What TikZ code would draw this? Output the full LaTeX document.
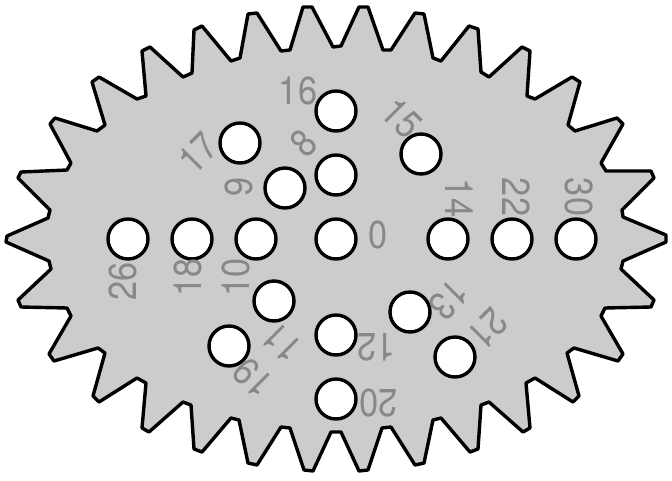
\documentclass[tikz,border=0pt]{standalone}
\usepackage{fontspec}
\newfontfamily\holefont[FakeStretch=0.88]{TeX Gyre Heros}
\definecolor{gearfill}{HTML}{CCCCCC}
\definecolor{labelgray}{HTML}{888888}

\tikzset{
    gearbody/.style={draw=black,fill=gearfill,line width=3.4pt,line join=round},
    hole/.style={circle,draw=black,fill=white,line width=3.4pt,inner sep=0pt,minimum size=40pt},
    holelabel/.style={text=labelgray,inner sep=0pt,font=\holefont\fontsize{39}{39}\selectfont}
}

\begin{document}
\begin{tikzpicture}[x=1pt,y=-1pt]

\useasboundingbox (0,0) rectangle (672,480);

% Gear outline
\draw[gearbody] (7,236) -- (48,218) -- (50,210) -- (18,178) -- (21,172) -- (67,170)
    -- (71,163) -- (50,124) -- (55,118) -- (97,131) -- (105,125) -- (92,82)
    -- (99,77) -- (137,99) -- (146,96) -- (142,51) -- (150,47) -- (183,77)
    -- (192,73) -- (194,30) -- (202,26) -- (231,61) -- (240,58) -- (248,14)
    -- (257,13) -- (281,51) -- (290,50) -- (303,7) -- (312,7) -- (333,47)
    -- (341,46) -- (359,7) -- (368,7) -- (383,50) -- (391,50) -- (415,13)
    -- (424,14) -- (433,58) -- (441,61) -- (469,26) -- (478,29) -- (481,72)
    -- (489,77) -- (522,47) -- (530,51) -- (527,96) -- (535,99) -- (572,77)
    -- (580,82) -- (568,125) -- (575,131) -- (617,118) -- (623,124) -- (601,163)
    -- (606,171) -- (651,171) -- (654,178) -- (622,210) -- (623,217) -- (666,235)
    -- (666,242) -- (623,261) -- (621,269) -- (654,300) -- (651,307) -- (605,308)
    -- (601,316) -- (623,354) -- (618,361) -- (574,348) -- (567,353) -- (579,396)
    -- (573,402) -- (535,378) -- (526,383) -- (530,428) -- (523,432) -- (489,402)
    -- (481,405) -- (478,449) -- (470,452) -- (441,418) -- (433,420) -- (424,463)
    -- (415,465) -- (391,427) -- (382,428) -- (368,470) -- (359,471) -- (341,432)
    -- (331,432) -- (313,471) -- (304,470) -- (290,428) -- (281,427) -- (257,465)
    -- (248,463) -- (239,420) -- (231,418) -- (202,452) -- (194,449) -- (191,405)
    -- (183,402) -- (149,432) -- (142,428) -- (146,383) -- (137,378) -- (99,402)
    -- (93,396) -- (105,353) -- (98,348) -- (54,361) -- (49,354) -- (71,316)
    -- (67,308) -- (21,307) -- (18,300) -- (51,269) -- (49,261) -- (6,242) -- cycle;

% Holes
\node[hole] (h0) at (336,239) {};
\node[hole] (h8) at (336,175) {};
\node[hole] (h9) at (285,188) {};
\node[hole] (h10) at (256,239) {};
\node[hole] (h11) at (274,301) {};
\node[hole] (h12) at (336,335) {};
\node[hole] (h13) at (410,312) {};
\node[hole] (h14) at (448,239) {};
\node[hole] (h15) at (421,154) {};
\node[hole] (h16) at (336,111) {};
\node[hole] (h17) at (240,143) {};
\node[hole] (h18) at (192,239) {};
\node[hole] (h19) at (229,346) {};
\node[hole] (h20) at (336,399) {};
\node[hole] (h21) at (455,357) {};
\node[hole] (h22) at (512,239) {};
\node[hole] (h26) at (128,239) {};
\node[hole] (h30) at (576,239) {};

% Labels
\node[holelabel] (l0) at (378,235) {0};
\node[holelabel,rotate=45] (l8) at (304,143) {8};
\node[holelabel,rotate=90] (l9) at (239,187) {9};
\node[holelabel,rotate=90] (l10) at (236,277) {10};
\node[holelabel,rotate=135] (l11) at (282,343) {11};
\node[holelabel,rotate=180] (l12) at (376,347) {12};
\node[holelabel,rotate=-135] (l13) at (449,300) {13};
\node[holelabel,rotate=-90] (l14) at (459,198) {14};
\node[holelabel,rotate=-45] (l15) at (402,118) {15};
\node[holelabel] (l16) at (298,91) {16};
\node[holelabel,rotate=45] (l17) at (198,153) {17};
\node[holelabel,rotate=90] (l18) at (188,277) {18};
\node[holelabel,rotate=135] (l19) at (253,378) {19};
\node[holelabel,rotate=180] (l20) at (378,403) {20};
\node[holelabel,rotate=-135] (l21) at (488,329) {21};
\node[holelabel,rotate=-90] (l22) at (516,197) {22};
\node[holelabel,rotate=90] (l26) at (123,281) {26};
\node[holelabel,rotate=-90] (l30) at (579,197) {30};

\end{tikzpicture}
\end{document}
